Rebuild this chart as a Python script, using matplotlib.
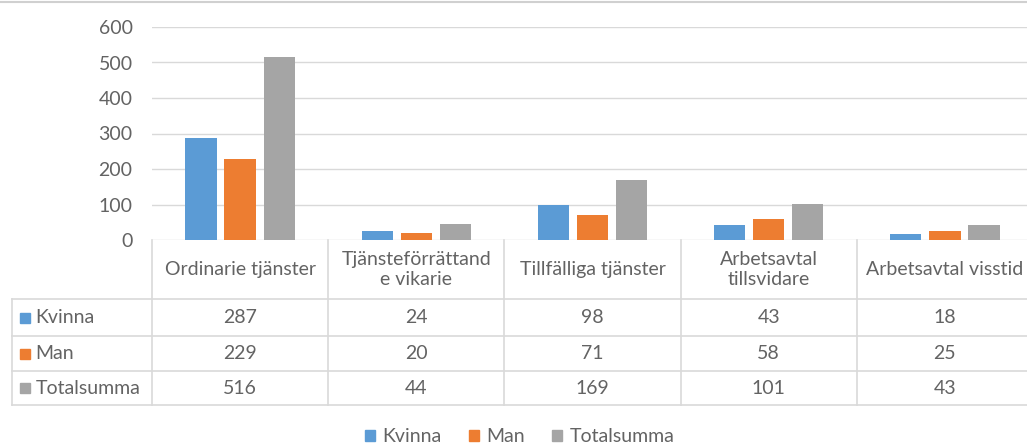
import numpy as np
import matplotlib.pyplot as plt
from matplotlib.patches import Patch
from matplotlib.lines import Line2D
from matplotlib.transforms import blended_transform_factory

# data
categories = ["Ordinarie tjänster", "Tjänsteförrättand\ne vikarie", "Tillfälliga tjänster",
              "Arbetsavtal\ntillsvidare", "Arbetsavtal visstid"]
series_names = ["Kvinna", "Man", "Totalsumma"]
kvinna = [287, 24, 98, 43, 18]
man = [229, 20, 71, 58, 25]
totalsumma = [516, 44, 169, 101, 43]
yticks = [0, 100, 200, 300, 400, 500, 600]

colors = ["#5B9BD5", "#ED7D31", "#A5A5A5"]
text_col = "#636363"
grid_col = "#D9D9D9"
fs = 14

plt.rcParams['font.family'] = ['Lato', 'DejaVu Sans']

W, H = 1027, 445
fig = plt.figure(figsize=(W / 100, H / 100), dpi=100)

# plot area (right edge runs past the figure, like the cropped original)
left_px, right_px, top_px, bot_px = 152, 1033, 27, 240
ax = fig.add_axes([left_px / W, 1 - bot_px / H, (right_px - left_px) / W, (bot_px - top_px) / H])

x = np.arange(len(categories))
step = 0.222
width = 0.178
all_series = [kvinna, man, totalsumma]
for i, vals in enumerate(all_series):
    ax.bar(x + (i - 1) * step, vals, width, color=colors[i], zorder=3)

ax.set_xlim(-0.5, len(categories) - 0.5)
ax.set_ylim(0, 600)
ax.set_yticks(yticks)
ax.set_xticks([])
for y in yticks:
    ax.axhline(y, color=grid_col, lw=1, zorder=1)
for s in ax.spines.values():
    s.set_visible(False)
ax.tick_params(axis='y', length=0, pad=14, labelsize=fs, labelcolor=text_col)

# data table below the axis
tr = blended_transform_factory(ax.transData, fig.transFigure)
def fy(py):
    return 1 - py / H

row_tops = [240, 299, 336, 371, 405]
lab_w = 140 / 176.0  # row-label column width in category units
x_left = -0.5 - lab_w
x_right = len(categories) - 0.5

def line(xs, ys):
    fig.add_artist(Line2D(xs, ys, transform=tr, color=grid_col, lw=1.2, clip_on=False))

for r in row_tops[1:]:
    line([x_left, x_right], [fy(r), fy(r)])
line([x_left, x_left], [fy(299), fy(405)])
for b in np.arange(len(categories) + 1) - 0.5:
    line([b, b], [fy(240), fy(405)])

# header row
for i, c in enumerate(categories):
    fig.text(x[i], fy((240 + 299) / 2), c, transform=tr, ha='center', va='center',
             fontsize=fs, color=text_col, linespacing=1.2)

# value rows
for r, (name, vals) in enumerate(zip(series_names, all_series)):
    yc = fy((row_tops[r + 1] + row_tops[r + 2]) / 2)
    for i, v in enumerate(vals):
        fig.text(x[i], yc, str(v), transform=tr, ha='center', va='center',
                 fontsize=fs, color=text_col)
    fig.add_artist(Line2D([x_left + 0.072], [yc], transform=tr, marker='s', markersize=7,
                          color=colors[r], lw=0, clip_on=False))
    fig.text(x_left + 0.135, yc, name, transform=tr, ha='left', va='center',
             fontsize=fs, color=text_col)

# top border of chart area
fig.add_artist(Line2D([0, 1], [1 - 1.5 / H, 1 - 1.5 / H], transform=fig.transFigure,
                      color="#D0D0D0", lw=1.5))

handles = [Patch(color=colors[i], label=series_names[i]) for i in range(3)]
fig.legend(handles=handles, loc='center', bbox_to_anchor=(520 / W, 1 - 437 / H), ncol=3,
           frameon=False, fontsize=fs, labelcolor=text_col, handlelength=0.5,
           handleheight=0.5, handletextpad=0.4, columnspacing=1.4)

plt.savefig("out.png", dpi=100)
